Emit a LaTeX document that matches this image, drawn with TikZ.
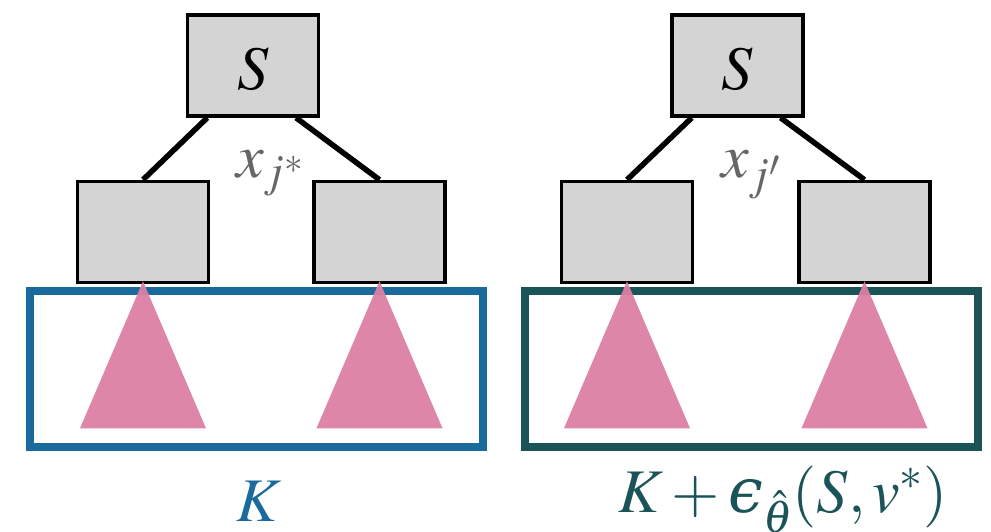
\documentclass[tikz,border=0pt]{standalone}
\usepackage{mathptmx}
\usepackage[no-math]{fontspec}
\newfontfamily\epsfont{DejaVu Serif}
\newcommand{\luneps}{\mbox{\epsfont\itshape ϵ}}
\usetikzlibrary{calc}
\definecolor{kblue}{HTML}{1B6A9C}
\definecolor{kteal}{HTML}{1A5358}
\definecolor{tpink}{HTML}{DC7FA3}
\definecolor{boxgray}{HTML}{D4D4D4}
\definecolor{lblgray}{HTML}{666666}
\tikzset{
  treebox/.style={draw=black, fill=boxgray, line width=3.5pt, minimum width=131pt, minimum height=101pt, inner sep=0pt},
  edgeline/.style={draw=black, line width=5.5pt},
  framebox/.style={line width=8pt, minimum width=453pt, minimum height=156pt, inner sep=0pt},
  tri/.style={fill=tpink, fill opacity=0.95, draw=none},
  bigmath/.style={font=\fontsize{62}{70}\selectfont, inner sep=0pt},
}
\begin{document}
\begin{tikzpicture}[x=1pt, y=-1pt]
\useasboundingbox (0,0) rectangle (991,531);
% left tree
\node[treebox] (SL) at (253,65.5) {};
\node[bigmath, anchor=base] (SLt) at (253,89) {$S$};
\node[treebox] (L1) at (143,232) {};
\node[treebox] (L2) at (379.5,232) {};
\draw[edgeline] ($(SL.south west)!0.16!(SL.south east)$) -- (L1.north);
\draw[edgeline] ($(SL.south west)!0.82!(SL.south east)$) -- (L2.north);
\node[bigmath, text=lblgray, anchor=base west] (xL) at (236,177) {$x_{j^*}$};
\node[framebox, draw=kblue] (FL) at (256.5,369) {};
\fill[tri] ($(L1.south)+(0,-3)$) -- ($(L1.south)+(-63,144)$) -- ($(L1.south)+(63,144)$) -- cycle;
\fill[tri] ($(L2.south)+(0,-3)$) -- ($(L2.south)+(-63,144)$) -- ($(L2.south)+(63,144)$) -- cycle;
\node[bigmath, text=kblue, anchor=base] (KL) at (259,521) {$K$};
% right tree
\node[treebox] (SR) at (737.5,65.5) {};
\node[bigmath, anchor=base] (SRt) at (737.5,89) {$S$};
\node[treebox] (R1) at (627,232) {};
\node[treebox] (R2) at (864.5,232) {};
\draw[edgeline] ($(SR.south west)!0.16!(SR.south east)$) -- (R1.north);
\draw[edgeline] ($(SR.south west)!0.82!(SR.south east)$) -- (R2.north);
\node[bigmath, text=lblgray, anchor=base west] (xR) at (721,177) {$x_{j'}$};
\node[framebox, draw=kteal] (FR) at (751.5,369) {};
\fill[tri] ($(R1.south)+(0,-3)$) -- ($(R1.south)+(-63,144)$) -- ($(R1.south)+(63,144)$) -- cycle;
\fill[tri] ($(R2.south)+(0,-3)$) -- ($(R2.south)+(-63,144)$) -- ($(R2.south)+(63,144)$) -- cycle;
\node[bigmath, text=kteal, anchor=base west] (KR) at (618,512) {$K+\luneps_{\hat{\theta}}(S,v^*)$};
\end{tikzpicture}
\end{document}
